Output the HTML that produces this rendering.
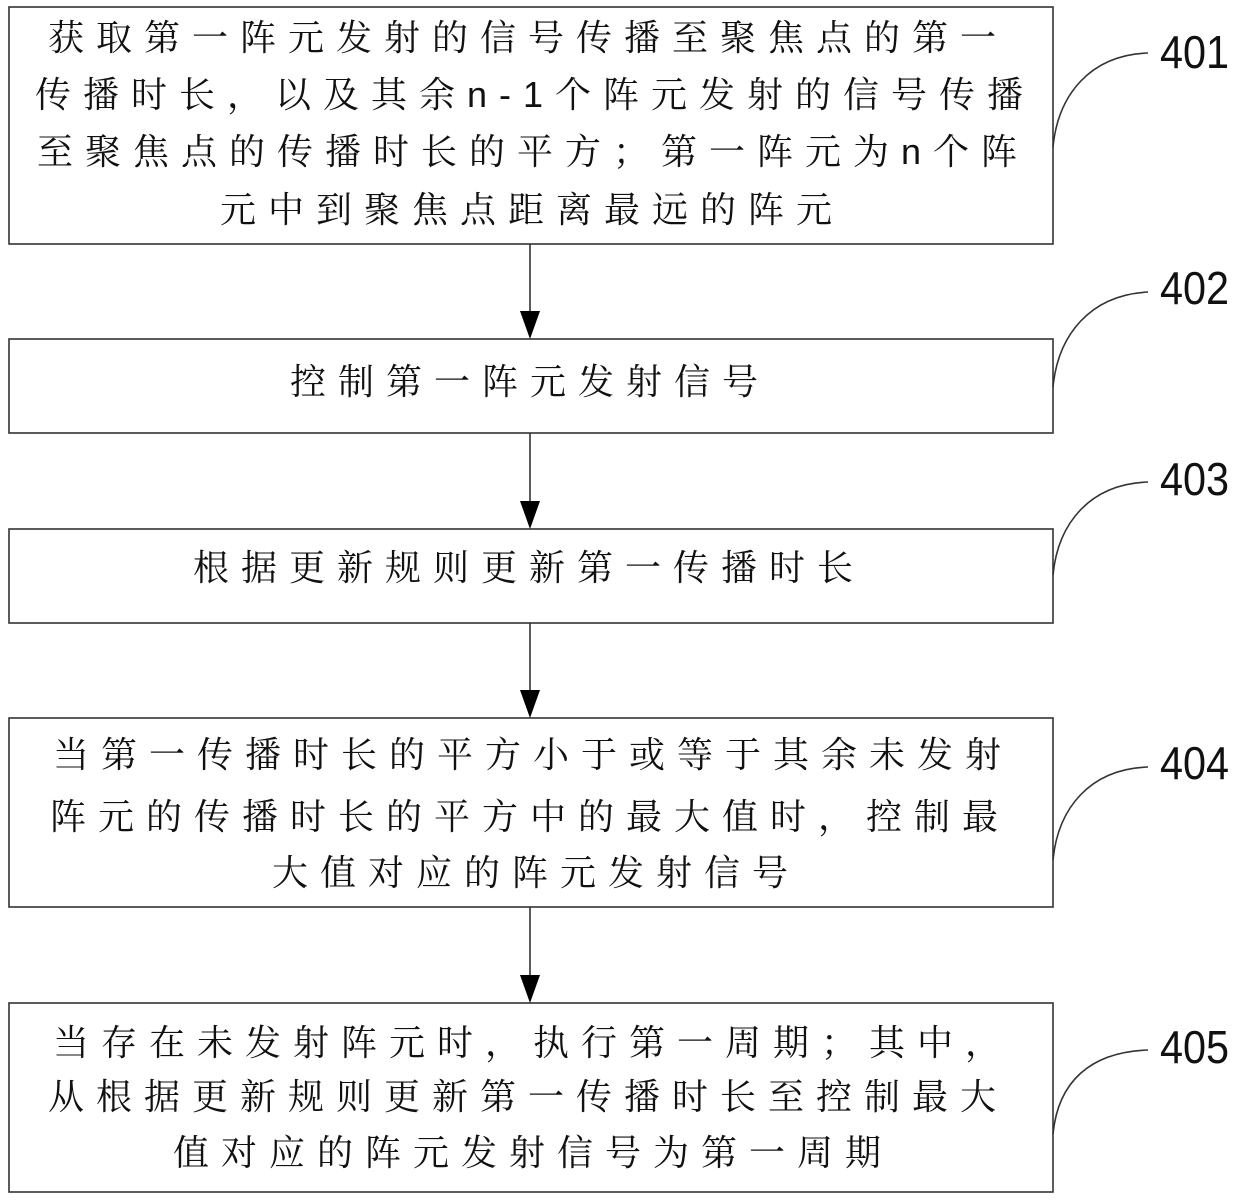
<!DOCTYPE html>
<html><head><meta charset="utf-8">
<style>
html,body{margin:0;padding:0;background:#fff;}
#c{position:relative;width:1240px;height:1201px;overflow:hidden;}
.t{position:absolute;white-space:nowrap;font-family:"Liberation Sans","Noto Serif CJK SC",serif;font-size:36px;line-height:36px;letter-spacing:12px;color:#111;}
.n{position:absolute;font-family:"Liberation Sans",sans-serif;font-size:46px;line-height:46px;color:#111;transform:scaleX(0.9);transform-origin:left center;}
</style></head><body><div id="c">
<svg width="1240" height="1201" style="position:absolute;left:0;top:0">
<g fill="none" stroke="#333" stroke-width="1.6">
<rect x="9" y="7" width="1044" height="237"/>
<rect x="9" y="339" width="1044" height="94"/>
<rect x="9" y="529" width="1044" height="94"/>
<rect x="9" y="718" width="1044" height="189"/>
<rect x="9" y="1003" width="1044" height="189"/>
<line x1="530" y1="244" x2="530" y2="315"/>
<line x1="530" y1="433" x2="530" y2="505"/>
<line x1="530" y1="623" x2="530" y2="694"/>
<line x1="530" y1="907" x2="530" y2="979"/>
<path d="M1053 147 C1058 95,1090 55,1148 53"/>
<path d="M1053 387 C1058 335,1090 295,1148 292"/>
<path d="M1053 575 C1058 523,1090 484,1148 482"/>
<path d="M1053 860 C1058 808,1090 769,1148 767"/>
<path d="M1053 1134 C1058 1082,1090 1052,1148 1050"/>
</g>
<g fill="#000">
<polygon points="520,311 540,311 530,339"/>
<polygon points="520,501 540,501 530,529"/>
<polygon points="520,690 540,690 530,718"/>
<polygon points="520,975 540,975 530,1003"/>
</g>
</svg>
<div class="t" style="left:48px;top:20px">获取第一阵元发射的信号传播至聚焦点的第一</div>
<div class="t" style="left:35px;top:77px">传播时长，以及其余n-1个阵元发射的信号传播</div>
<div class="t" style="left:37px;top:134px">至聚焦点的传播时长的平方；第一阵元为n个阵</div>
<div class="t" style="left:220px;top:192px">元中到聚焦点距离最远的阵元</div>
<div class="t" style="left:290px;top:364px">控制第一阵元发射信号</div>
<div class="t" style="left:193px;top:550px">根据更新规则更新第一传播时长</div>
<div class="t" style="left:53px;top:737px">当第一传播时长的平方小于或等于其余未发射</div>
<div class="t" style="left:50px;top:799px">阵元的传播时长的平方中的最大值时，控制最</div>
<div class="t" style="left:272px;top:855px">大值对应的阵元发射信号</div>
<div class="t" style="left:53px;top:1025px">当存在未发射阵元时，执行第一周期；其中，</div>
<div class="t" style="left:48px;top:1079px">从根据更新规则更新第一传播时长至控制最大</div>
<div class="t" style="left:173px;top:1135px">值对应的阵元发射信号为第一周期</div>
<div class="n" style="left:1160px;top:29px">401</div>
<div class="n" style="left:1160px;top:265px">402</div>
<div class="n" style="left:1160px;top:456px">403</div>
<div class="n" style="left:1160px;top:740px">404</div>
<div class="n" style="left:1160px;top:1024px">405</div>
</div></body></html>
